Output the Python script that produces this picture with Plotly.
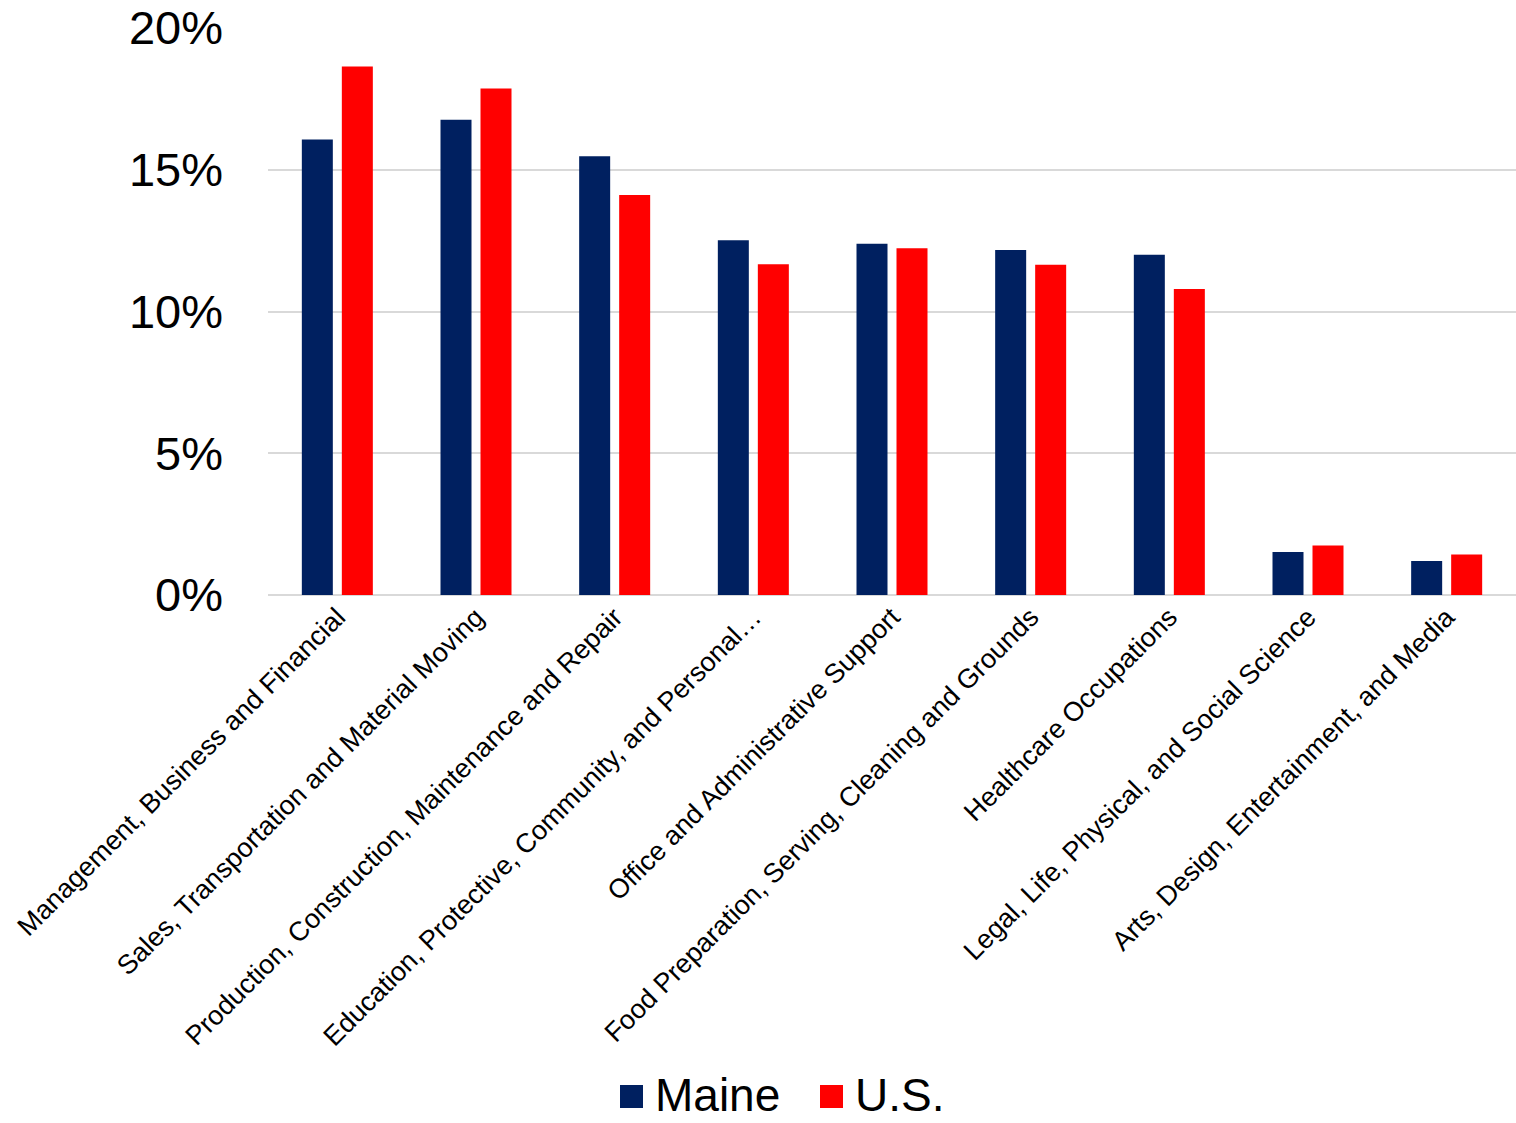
import plotly.graph_objects as go

# Occupation groups (share of employment, %)
categories = [
    "Management, Business and Financial",
    "Sales, Transportation and Material Moving",
    "Production, Construction, Maintenance and Repair",
    "Education, Protective, Community, and Personal…",
    "Office and Administrative Support",
    "Food Preparation, Serving, Cleaning and Grounds",
    "Healthcare Occupations",
    "Legal, Life, Physical, and Social Science",
    "Arts, Design, Entertainment, and Media",
]
maine = [16.07, 16.76, 15.48, 12.51, 12.39, 12.17, 12.00, 1.52, 1.20]
us = [18.64, 17.87, 14.11, 11.67, 12.23, 11.65, 10.79, 1.75, 1.43]

y_ticks = [0, 5, 10, 15, 20]
y_tick_text = ["0%", "5%", "10%", "15%", "20%"]

MAINE_COLOR = "#002060"
US_COLOR = "#FF0000"
FONT = "Liberation Sans, Arial, sans-serif"

fig = go.Figure()
fig.add_trace(go.Bar(x=categories, y=maine, name="Maine",
                     marker=dict(color=MAINE_COLOR, line=dict(width=0)),
                     showlegend=False))
fig.add_trace(go.Bar(x=categories, y=us, name="U.S.",
                     marker=dict(color=US_COLOR, line=dict(width=0)),
                     showlegend=False))

W, H = 1516, 1123
L, R, T, B = 268, 0, 28, 528

fig.update_layout(
    width=W, height=H,
    margin=dict(l=L, r=R, t=T, b=B, pad=0),
    paper_bgcolor="white", plot_bgcolor="white",
    barmode="group", bargap=0.423, bargroupgap=0.225,
    font=dict(family=FONT, color="black"),
)
fig.update_xaxes(
    tickangle=-45, tickfont=dict(size=27, family=FONT, color="black"),
    showgrid=False, showline=False, ticks="",
)
fig.update_yaxes(
    range=[0, 20], tickvals=y_ticks, ticktext=y_tick_text,
    tickfont=dict(size=47, family=FONT, color="black"),
    showgrid=True, gridcolor="#D9D9D9", gridwidth=2,
    zeroline=True, zerolinecolor="#D9D9D9", zerolinewidth=2,
    showline=False, ticks="", ticklabelstandoff=44,
)

# Legend drawn below the axis labels
plot_w = W - L - R
plot_h = H - T - B


def px_x(px):
    return (px - L) / plot_w


def px_y(py):
    return (H - B - py) / plot_h


legend_items = [("Maine", MAINE_COLOR, 620), ("U.S.", US_COLOR, 820)]
for label, color, x0 in legend_items:
    fig.add_shape(type="rect", xref="paper", yref="paper",
                  x0=px_x(x0), x1=px_x(x0 + 23),
                  y0=px_y(1108), y1=px_y(1085),
                  fillcolor=color, line=dict(width=0))
    fig.add_annotation(xref="paper", yref="paper",
                       x=px_x(x0 + 33), y=px_y(1095),
                       xanchor="left", yanchor="middle",
                       text=label, showarrow=False,
                       font=dict(size=46, family=FONT, color="black"))

fig.write_html("out.html")
